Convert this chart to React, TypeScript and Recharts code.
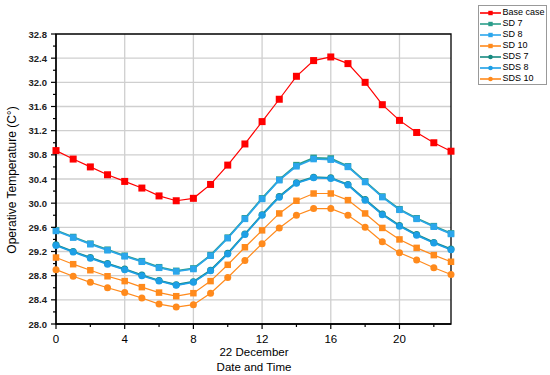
import {
  LineChart,
  Line,
  XAxis,
  YAxis,
  CartesianGrid,
  ReferenceArea,
} from "recharts";

const hours = [0, 1, 2, 3, 4, 5, 6, 7, 8, 9, 10, 11, 12, 13, 14, 15, 16, 17, 18, 19, 20, 21, 22, 23];

const baseCase = [30.87, 30.73, 30.6, 30.47, 30.36, 30.25, 30.12, 30.04, 30.08, 30.31, 30.63, 30.98, 31.35, 31.72, 32.1, 32.36, 32.42, 32.31, 32.0, 31.63, 31.37, 31.17, 31.0, 30.86];
const sd7 = [29.55, 29.44, 29.33, 29.23, 29.13, 29.04, 28.94, 28.88, 28.92, 29.14, 29.43, 29.75, 30.08, 30.39, 30.63, 30.75, 30.74, 30.61, 30.36, 30.11, 29.9, 29.75, 29.62, 29.5];
const sd8 = [29.54, 29.43, 29.32, 29.22, 29.12, 29.03, 28.93, 28.87, 28.91, 29.13, 29.42, 29.74, 30.07, 30.38, 30.61, 30.73, 30.72, 30.6, 30.35, 30.1, 29.89, 29.74, 29.61, 29.49];
const sd10 = [29.1, 28.99, 28.89, 28.79, 28.71, 28.61, 28.52, 28.46, 28.51, 28.71, 28.98, 29.27, 29.55, 29.83, 30.04, 30.16, 30.16, 30.05, 29.83, 29.59, 29.4, 29.26, 29.14, 29.03];
const sds7 = [29.31, 29.2, 29.1, 29.0, 28.91, 28.81, 28.72, 28.65, 28.7, 28.89, 29.17, 29.49, 29.81, 30.11, 30.34, 30.43, 30.42, 30.31, 30.06, 29.82, 29.63, 29.48, 29.35, 29.24];
const sds8 = [29.3, 29.19, 29.09, 28.99, 28.9, 28.8, 28.71, 28.64, 28.69, 28.88, 29.16, 29.48, 29.8, 30.1, 30.33, 30.42, 30.41, 30.3, 30.05, 29.81, 29.62, 29.47, 29.34, 29.23];
const sds10 = [28.9, 28.79, 28.69, 28.6, 28.52, 28.43, 28.33, 28.28, 28.32, 28.51, 28.77, 29.05, 29.33, 29.59, 29.8, 29.91, 29.91, 29.8, 29.6, 29.36, 29.18, 29.06, 28.93, 28.82];

const xTicks = [0, 2, 4, 6, 8, 10, 12, 14, 16, 18, 20, 22];
const yTicks = [28.0, 28.2, 28.4, 28.6, 28.8, 29.0, 29.2, 29.4, 29.6, 29.8, 30.0, 30.2, 30.4, 30.6, 30.8, 31.0, 31.2, 31.4, 31.6, 31.8, 32.0, 32.2, 32.4, 32.6, 32.8];
const xGrid = [4, 8, 12, 16, 20];
const yGrid = [28.4, 28.8, 29.2, 29.6, 30.0, 30.4, 30.8, 31.2, 31.6, 32.0, 32.4];

const data = hours.map((h, i) => ({
  hour: h,
  base: baseCase[i],
  sd7: sd7[i],
  sd8: sd8[i],
  sd10: sd10[i],
  sds7: sds7[i],
  sds8: sds8[i],
  sds10: sds10[i],
}));

type Marker = "square" | "circle";

const series: { key: string; name: string; color: string; marker: Marker; size: number; width: number }[] = [
  { key: "base", name: "Base case", color: "#ff0000", marker: "square", size: 7, width: 1.2 },
  { key: "sd7", name: "SD 7", color: "#2a9d8a", marker: "square", size: 6.5, width: 1.8 },
  { key: "sd8", name: "SD 8", color: "#2ba6ec", marker: "square", size: 6.5, width: 1.6 },
  { key: "sd10", name: "SD 10", color: "#ff8a1c", marker: "square", size: 6.5, width: 1.2 },
  { key: "sds7", name: "SDS 7", color: "#168a80", marker: "circle", size: 7, width: 1.8 },
  { key: "sds8", name: "SDS 8", color: "#1d9fe6", marker: "circle", size: 7, width: 1.6 },
  { key: "sds10", name: "SDS 10", color: "#ff8a1c", marker: "circle", size: 7, width: 1.2 },
];

const FONT = "'Liberation Sans', Arial, sans-serif";

function makeDot(color: string, marker: Marker, s: number) {
  return (p: any) => {
    if (p.cx == null || p.cy == null) return <g key={p.index} />;
    if (marker === "circle")
      return <circle key={p.index} cx={p.cx} cy={p.cy} r={s / 2} fill={color} />;
    return <rect key={p.index} x={p.cx - s / 2} y={p.cy - s / 2} width={s} height={s} fill={color} />;
  };
}

function XTick(props: any) {
  const { x, y, payload } = props;
  const major = payload.value % 4 === 0;
  return (
    <g>
      <line x1={x} x2={x} y1={y} y2={y + (major ? 5 : 3)} stroke="#000" strokeWidth={1.2} />
      {major && (
        <text x={x} y={y + 19} textAnchor="middle" fontSize={11.5} fontFamily={FONT} fill="#000">
          {payload.value}
        </text>
      )}
    </g>
  );
}

function YTick(props: any) {
  const { x, y, payload } = props;
  const major = Math.round(payload.value * 10) % 4 === 0;
  return (
    <g>
      <line x1={x} x2={x - (major ? 5 : 3)} y1={y} y2={y} stroke="#000" strokeWidth={1.2} />
      {major && (
        <text x={x - 9} y={y + 3.5} textAnchor="end" fontSize={9.5} fontWeight="bold" fontFamily={FONT} fill="#222">
          {payload.value.toFixed(1)}
        </text>
      )}
    </g>
  );
}

function LegendBox() {
  return (
    <div
      style={{
        position: "absolute",
        left: 478,
        top: 5,
        width: 69,
        height: 80,
        border: "1px solid #999",
        boxSizing: "border-box",
        background: "#fff",
        fontFamily: FONT,
        fontSize: 9,
        color: "#000",
        paddingTop: 1,
        overflow: "hidden",
      }}
    >
      {series.map((s) => (
        <div key={s.key} style={{ display: "flex", alignItems: "center", height: 11.05, lineHeight: "11px" }}>
          <svg width={21} height={10} style={{ marginLeft: 1, flexShrink: 0, display: "block" }}>
            <line x1={0} x2={21} y1={5} y2={5} stroke={s.color} strokeWidth={1.6} />
            {s.marker === "circle" ? (
              <circle cx={10.5} cy={5} r={2.3} fill={s.color} />
            ) : (
              <rect x={8.3} y={2.8} width={4.4} height={4.4} fill={s.color} />
            )}
          </svg>
          <span style={{ marginLeft: 1.5, whiteSpace: "nowrap" }}>{s.name}</span>
        </div>
      ))}
    </div>
  );
}

export default function App() {
  return (
    <div style={{ position: "absolute", left: 0, top: 0, width: 550, height: 375, background: "#fff" }}>
      <LineChart width={550} height={375} data={data} margin={{ top: 34, right: 99, bottom: 21, left: 16 }}>
        <CartesianGrid
          stroke="#cfcfcf"
          strokeWidth={1.3}
          verticalValues={xGrid}
          horizontalValues={yGrid}
        />
        <XAxis
          dataKey="hour"
          type="number"
          domain={[0, 23]}
          ticks={xTicks}
          height={30}
          tickSize={0}
          tickMargin={0}
          tickLine={false}
          axisLine={{ stroke: "#000", strokeWidth: 1.3 }}
          tick={<XTick />}
          interval={0}
        />
        <YAxis
          type="number"
          domain={[28, 32.8]}
          ticks={yTicks}
          width={40}
          tickSize={0}
          tickMargin={0}
          tickLine={false}
          axisLine={{ stroke: "#000", strokeWidth: 1.3 }}
          tick={<YTick />}
          interval={0}
        />
        <ReferenceArea x1={0} x2={23} y1={28} y2={32.8} fill="none" stroke="#000" strokeWidth={1.3} />
        {series.map((s) => (
          <Line
            key={s.key}
            dataKey={s.key}
            name={s.name}
            type="linear"
            stroke={s.color}
            strokeWidth={s.width}
            dot={makeDot(s.color, s.marker, s.size)}
            activeDot={false}
            isAnimationActive={false}
          />
        ))}
      </LineChart>
      <div
        style={{
          position: "absolute",
          left: 12,
          top: 180,
          transform: "translate(-50%, -50%) rotate(-90deg)",
          fontFamily: FONT,
          fontSize: 12,
          whiteSpace: "nowrap",
          color: "#000",
        }}
      >
        Operative Temperature (C°)
      </div>
      <div
        style={{
          position: "absolute",
          left: 0,
          width: 508,
          top: 345,
          textAlign: "center",
          fontFamily: FONT,
          fontSize: 11.5,
          lineHeight: "14.5px",
          color: "#000",
        }}
      >
        22 December
        <br />
        Date and Time
      </div>
      <LegendBox />
    </div>
  );
}
